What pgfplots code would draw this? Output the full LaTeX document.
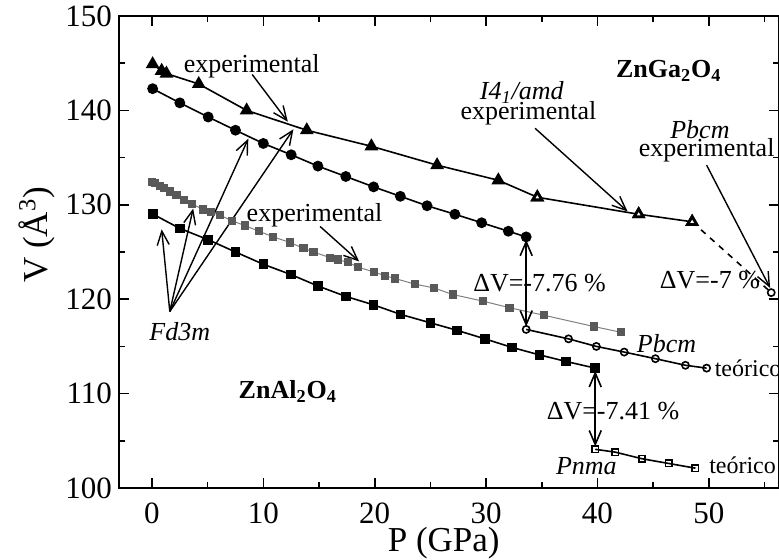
\documentclass[border=0pt]{standalone}
\usepackage{fontspec}
\setmainfont{Liberation Serif}
\usepackage{pgfplots}
\pgfplotsset{compat=1.18}
\usetikzlibrary{arrows.meta}
\tikzset{ann/.style={font=\fontsize{13}{15}\selectfont},
  arr/.style={line width=0.7pt, -{Straight Barb[length=7pt,width=6pt]}},
  darr/.style={line width=0.8pt, {Straight Barb[length=7pt,width=6pt]}-{Straight Barb[length=7pt,width=6pt]}}}
\begin{document}
\begin{tikzpicture}
\begin{axis}[
  name=ax, at={(0,0)}, anchor=south west,
  scale only axis, width=330pt, height=236pt,
  xmin=-2.96, xmax=56.3, ymin=100, ymax=150,
  xtick={0,10,...,50}, ytick={100,110,...,150},
  minor xtick={5,15,...,55}, minor ytick={105,115,...,145},
  tick align=inside, major tick length=5pt, minor tick length=3pt,
  axis line style={line width=0.9pt},
  every tick/.style={black, line width=0.8pt},
  /pgf/number format/assume math mode=true,
  ticklabel style={font=\fontsize{15.5}{18}\selectfont},
  xticklabel style={yshift=-4pt},
  xlabel={P (GPa)}, ylabel={V (Å\textsuperscript{3})},
  label style={font=\fontsize{17.5}{21}\selectfont},
  xlabel style={at={(axis description cs:0.492,0)}, anchor=base, yshift=-31.5pt},
  ylabel style={at={(axis description cs:-0.124,0.536)}, anchor=center},
  clip=false,
]
% ZnGa2O4 experimental (triangles)
\addplot[black, line width=0.8pt, mark=triangle*, mark size=3.2pt] coordinates {
(0.06,144.9)(0.87,144.2)(1.3,143.9)(4.2,142.8)(8.5,140.0)(13.9,137.9)(19.7,136.2)(25.6,134.2)(31.1,132.6)(34.6,130.8)(43.7,129.0)(48.5,128.2)};
\addplot[only marks, mark=triangle*, mark size=2.6pt, mark options={fill=white, draw=black, line width=1.4pt}] coordinates {(34.6,130.8)(43.7,129.0)(48.5,128.2)};
\addplot[black, dashed, line width=0.8pt] coordinates {(48.5,128.2)(55.6,120.7)};
\addplot[only marks, mark=o, mark size=1.8pt, line width=0.8pt] coordinates {(55.6,120.7)};
% ZnGa2O4 theoretical Fd3m (circles)
\addplot[black, line width=0.8pt, mark=*, mark size=2.3pt] coordinates {
(0.06,142.3)(2.5,140.8)(5.05,139.3)(7.5,137.9)(10.0,136.5)(12.5,135.3)(14.9,134.1)(17.4,133.0)(19.9,131.9)(22.3,130.9)(24.7,129.9)(27.2,129.0)(29.6,128.1)(32.0,127.2)(33.6,126.6)};
% ZnGa2O4 theoretical Pbcm
\addplot[black, line width=0.8pt, mark=o, mark size=1.8pt] coordinates {
(33.6,116.8)(37.4,115.8)(39.9,115.0)(42.4,114.4)(45.2,113.7)(47.9,113.0)(49.8,112.7)};
% ZnAl2O4 experimental (grey squares)
\addplot[gray, line width=0.5pt, mark=square*, mark size=1.8pt, mark options={fill=black!65, draw=black!65}] coordinates {
(0.0,132.4)(0.3,132.3)(0.7,132.0)(1.1,131.8)(1.6,131.4)(2.2,131.0)(2.9,130.5)(3.6,130.1)(4.6,129.5)(5.3,129.2)(6.1,128.9)(7.2,128.3)(8.35,127.8)(9.6,127.2)(10.9,126.6)(12.4,126.0)(13.6,125.4)(14.5,125.0)(16.0,124.4)(16.7,124.2)(17.6,123.9)(18.5,123.4)(19.9,122.9)(20.9,122.5)(21.8,122.2)(23.6,121.6)(25.3,121.2)(27.0,120.5)(29.7,119.8)(32.1,119.1)(35.2,118.3)(39.7,117.1)(42.1,116.5)};
% ZnAl2O4 theoretical Fd3m (squares)
\addplot[black, line width=0.8pt, mark=square*, mark size=2pt] coordinates {
(0.1,129.0)(2.5,127.5)(5.05,126.3)(7.5,125.0)(10.0,123.7)(12.5,122.6)(14.9,121.4)(17.4,120.3)(19.9,119.4)(22.3,118.4)(25.0,117.5)(27.4,116.7)(29.9,115.8)(32.3,114.9)(34.8,114.1)(37.2,113.4)(39.8,112.7)};
% ZnAl2O4 theoretical Pnma
\addplot[black, line width=0.8pt, mark=square, mark size=1.6pt] coordinates {
(39.8,104.1)(41.6,103.8)(44.0,103.1)(46.4,102.6)(48.8,102.1)};

% annotations
\node[ann] at (axis cs:8.95,144.7) {experimental};
\draw[arr] (axis cs:9.0,143.8) -- (axis cs:12.2,138.8);
\node[ann] at (axis cs:14.6,128.9) {experimental};
\draw[arr] (axis cs:15.1,127.7) -- (axis cs:18.6,124.0);
\node[ann] at (axis cs:2.5,116.6) {\itshape Fd3m};
\draw[arr] (axis cs:1.6,118.7) -- (axis cs:0.87,127.4);
\draw[arr] (axis cs:1.6,118.7) -- (axis cs:3.7,129.6);
\draw[arr] (axis cs:1.6,118.7) -- (axis cs:8.65,137.0);
\draw[arr] (axis cs:1.6,118.7) -- (axis cs:12.7,138.0);
\node[ann] at (axis cs:46.4,144.2) {\bfseries ZnGa\textsubscript{2}O\textsubscript{4}};
\node[ann, inner sep=0pt] at (axis cs:33.2,141.9) {\itshape I4\textsubscript{1}/amd};
\node[ann, inner sep=0pt] at (axis cs:33.8,139.7) {experimental};
\draw[arr] (axis cs:34.4,138.1) -- (axis cs:42.7,129.3);
\node[ann, inner sep=0pt] at (axis cs:49.2,138.0) {\itshape Pbcm};
\node[ann, inner sep=0pt] at (axis cs:49.8,135.8) {experimental};
\draw[arr] (axis cs:49.8,134.2) -- (axis cs:55.5,121.2);
\node[ann] at (axis cs:50.1,122.0) {ΔV=-7 \%};
\node[ann] at (axis cs:34.8,121.7) {ΔV=-7.76 \%};
\draw[darr] (axis cs:33.6,126.3) -- (axis cs:33.6,117.1);
\node[ann] at (axis cs:46.2,115.3) {\itshape Pbcm};
\node[ann, font=\fontsize{12}{14}\selectfont, anchor=west, inner sep=0pt] at (axis cs:50.5,112.7) {teórico};
\node[ann] at (axis cs:41.4,108.1) {ΔV=-7.41 \%};
\draw[darr] (axis cs:39.8,112.4) -- (axis cs:39.8,104.4);
\node[ann] at (axis cs:39.0,102.3) {\itshape Pnma};
\node[ann, font=\fontsize{12}{14}\selectfont, anchor=west, inner sep=0pt] at (axis cs:50.0,102.4) {teórico};
\node[ann] at (axis cs:12.2,110.2) {\bfseries ZnAl\textsubscript{2}O\textsubscript{4}};
\end{axis}
\pgfresetboundingbox
\path[use as bounding box] (-59.5pt,-35.5pt) rectangle (330pt,244pt);
\end{tikzpicture}
\end{document}
